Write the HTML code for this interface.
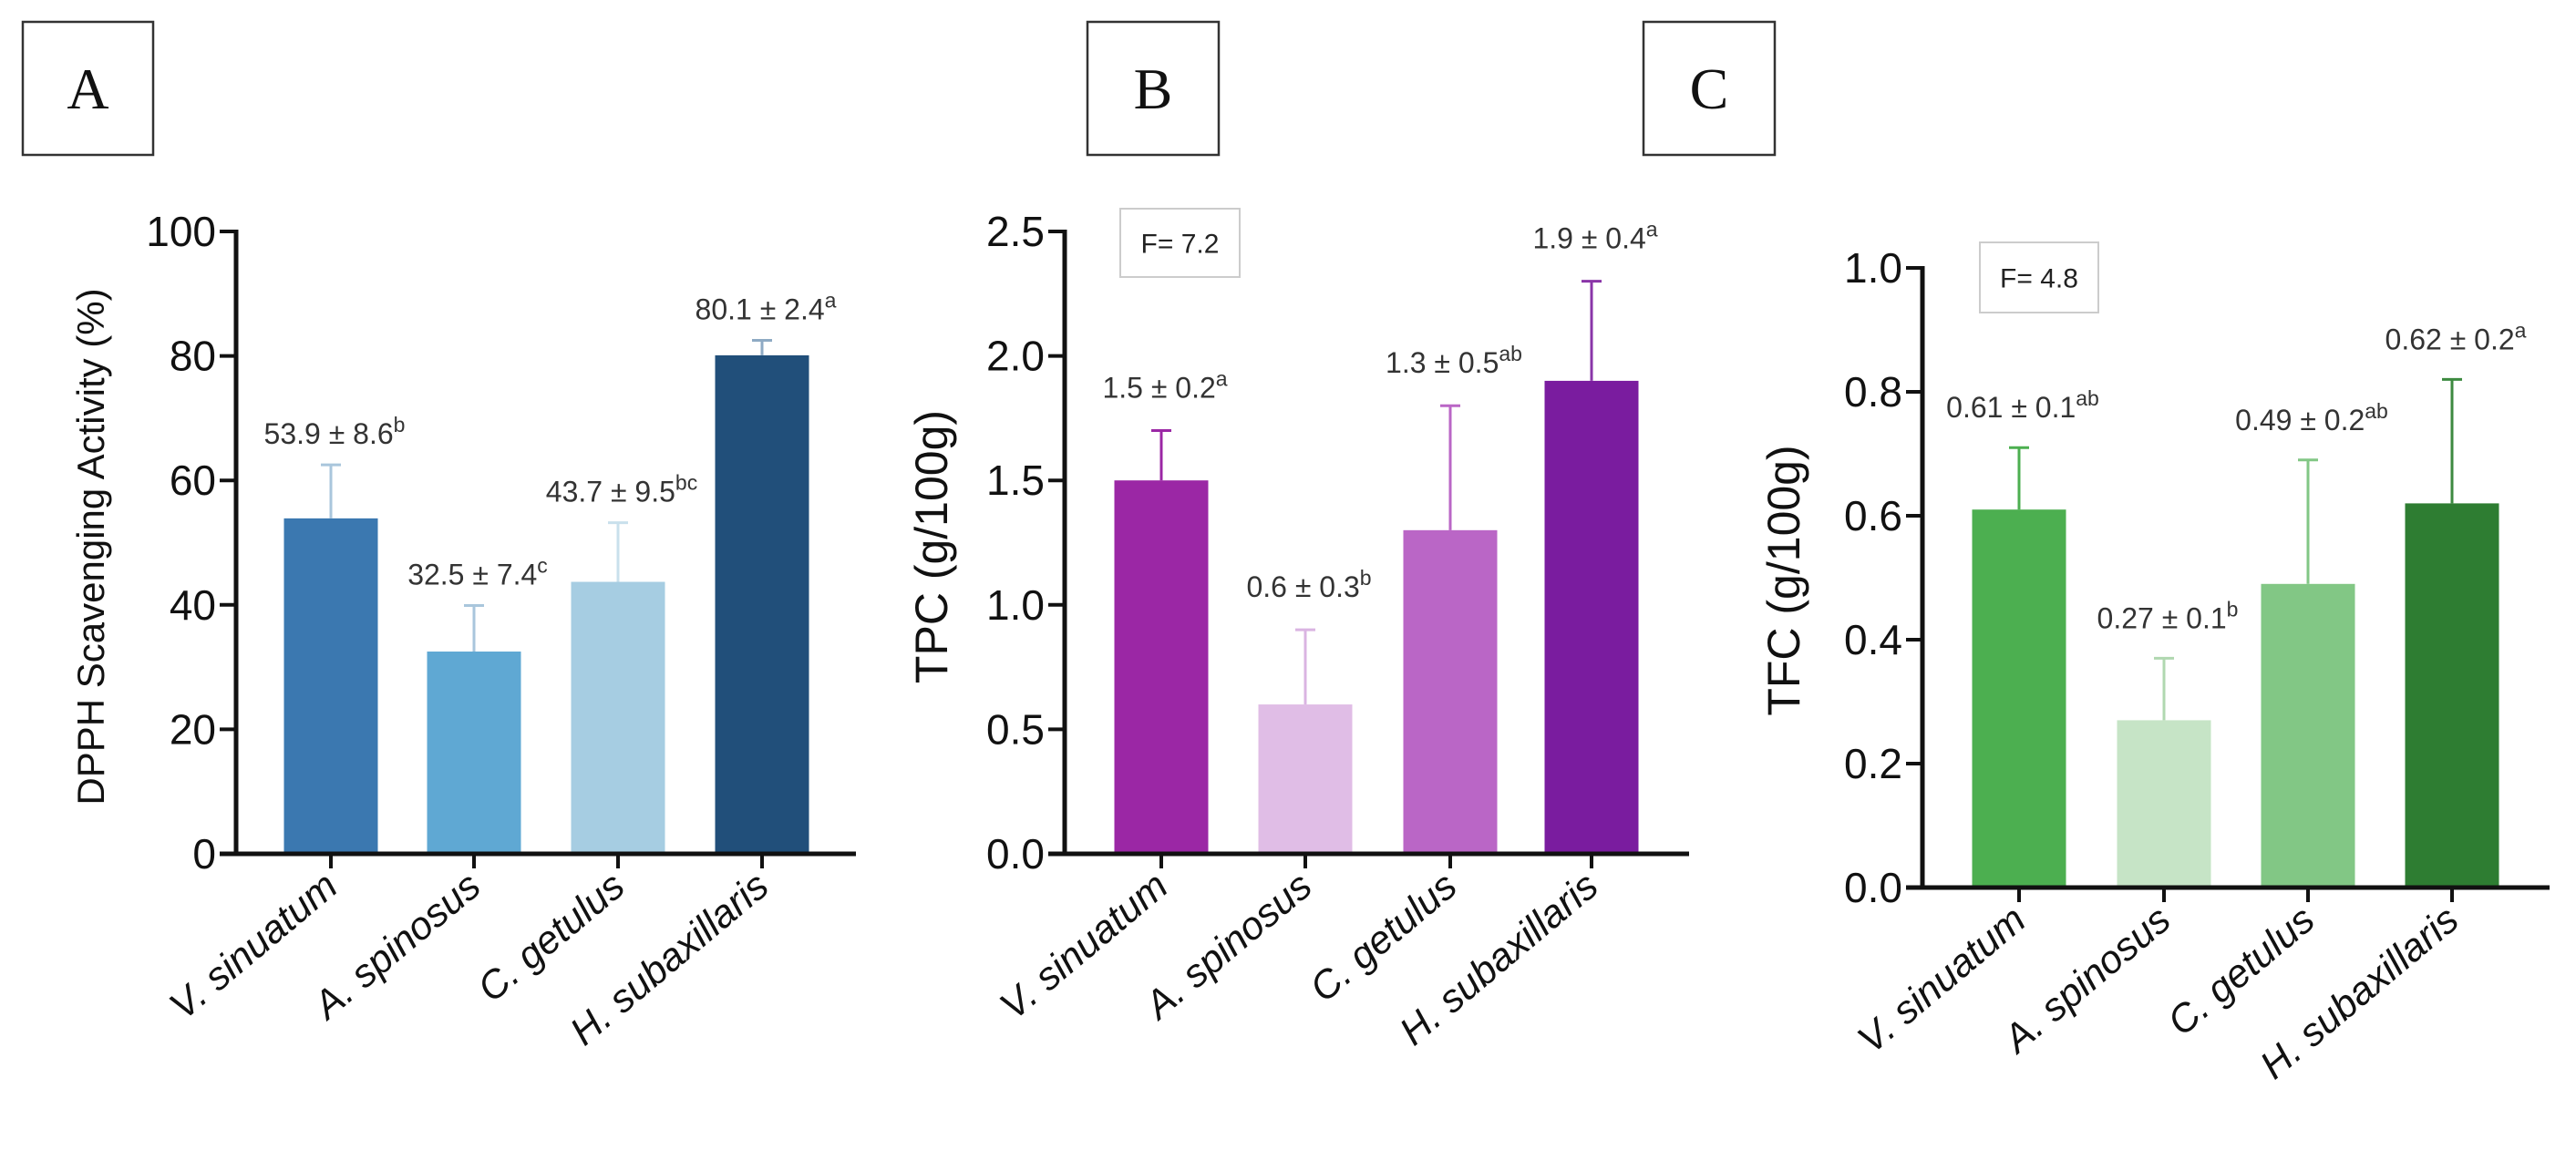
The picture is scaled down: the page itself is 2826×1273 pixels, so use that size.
<!DOCTYPE html>
<html><head><meta charset="utf-8"><style>
html,body{margin:0;padding:0;background:#fff;}
svg{display:block;font-family:"Liberation Sans",Arial,sans-serif;}
</style></head><body>
<svg id="fig" width="2826" height="1273" viewBox="0 0 2826 1273" xmlns="http://www.w3.org/2000/svg"></svg>
<script>
const categories = ["V. sinuatum","A. spinosus","C. getulus","H. subaxillaris"];
const dpphValues = [53.9, 32.5, 43.7, 80.1];
const dpphSd = [8.6, 7.4, 9.5, 2.4];
const dpphLetters = ["b","c","bc","a"];
const tpcValues = [1.5, 0.6, 1.3, 1.9];
const tpcSd = [0.2, 0.3, 0.5, 0.4];
const tpcLetters = ["a","b","ab","a"];
const tfcValues = [0.61, 0.27, 0.49, 0.62];
const tfcSd = [0.1, 0.1, 0.2, 0.2];
const tfcLetters = ["ab","b","ab","a"];
const dpphTicks = [0,20,40,60,80,100];
const tpcTicks = [0,0.5,1.0,1.5,2.0,2.5];
const tfcTicks = [0,0.2,0.4,0.6,0.8,1.0];

const NS="http://www.w3.org/2000/svg";
const svg=document.getElementById('fig');
function mk(tag,attrs,parent){const e=document.createElementNS(NS,tag);for(const k in attrs)e.setAttribute(k,attrs[k]);(parent||svg).appendChild(e);return e;}

const panels=[
 {key:"a",letter:"A",box:[25,24,143,146],ax:259,y0:937,yTop:254,xEnd:939,ymax:100,centers:[363,520,678,836],
  vals:dpphValues,sd:dpphSd,lets:dpphLetters,ticks:dpphTicks,dec:0,title:"DPPH Scavenging Activity (%)",titleX:103,titleY:600,titleSize:42,
  colors:["#3b78b0","#5fa8d3","#a6cde2","#214f7a"],errColors:["#a9c6dc","#a9c6dc","#c9e0ec","#8eaac4"],annDec:1,off:23,fbox:null},
 {key:"b",letter:"B",box:[1193,24,144,146],ax:1168,y0:937,yTop:254,xEnd:1853,ymax:2.5,centers:[1274,1432,1591,1746],
  vals:tpcValues,sd:tpcSd,lets:tpcLetters,ticks:tpcTicks,dec:1,title:"TPC (g/100g)",titleX:1026,titleY:600,titleSize:50,
  colors:["#9b27a5","#e0bde6","#ba66c6","#7a1c9f"],errColors:["#9b27a5","#dab4e2","#ba66c6","#8a35a8"],annDec:1,off:36,
  fbox:[1229,229,131,75,"F= 7.2"]},
 {key:"c",letter:"C",box:[1803,24,144,146],ax:2109,y0:974,yTop:294,xEnd:2797,ymax:1.0,centers:[2215,2374,2532,2690],
  vals:tfcValues,sd:tfcSd,lets:tfcLetters,ticks:tfcTicks,dec:1,title:"TFC (g/100g)",titleX:1961,titleY:637,titleSize:50,
  colors:["#4caf50","#c6e4c6","#82c785","#2e7d32"],errColors:["#4caf50","#b0d8b0","#82c785","#3d8a40"],annDec:2,off:33,
  fbox:[2172,266,130,77,"F= 4.8"]}
];

panels.forEach(p=>{
 const g=mk('g',{});
 
 
 const yS=v=>p.y0-(v/p.ymax)*(p.y0-p.yTop);
 // label box
 const lb=mk('rect',{x:p.box[0],y:p.box[1],width:p.box[2],height:p.box[3],fill:"#fff",stroke:"#333","stroke-width":2.5},g);
 
 
 const lt=mk('text',{x:p.box[0]+p.box[2]/2,y:p.box[1]+p.box[3]/2+22,"text-anchor":"middle","font-family":"'Liberation Serif',serif","font-size":64,fill:"#111"},g);
 lt.textContent=p.letter;
 
 
 // bars
 p.vals.forEach((v,i)=>{
  const cx=p.centers[i], w=103;
  const r=mk('rect',{x:cx-w/2,y:yS(v),width:w,height:p.y0-yS(v),fill:p.colors[i]},g);
  
  
  const top=yS(v+p.sd[i]);
  const e=mk('path',{d:`M${cx},${yS(v)} V${top} M${cx-11},${top} H${cx+11}`,stroke:p.errColors[i],"stroke-width":3,fill:"none"},g);
  
  
  const t=mk('text',{x:cx+4,y:top-p.off,"text-anchor":"middle","font-size":32,fill:"#333"},g);
  const fv=p.key==="a"?v.toFixed(1):(p.key==="c"?String(v):v.toFixed(1));
  t.textContent=fv+" ± "+p.sd[i].toFixed(1);
  const s=mk('tspan',{"baseline-shift":"super","font-size":23},t);
  s.textContent=p.lets[i];
  
  
  // x tick + category
  mk('line',{x1:cx,y1:p.y0,x2:cx,y2:p.y0+16,stroke:"#111","stroke-width":4},g);
  const c=mk('text',{x:cx+10,y:p.y0+40,"text-anchor":"end","font-size":43,"font-style":"italic",fill:"#111",transform:`rotate(-40 ${cx+10} ${p.y0+40})`},g);
  c.textContent=categories[i];
  
  
 });
 // axes
 const ya=mk('line',{x1:p.ax,y1:p.yTop-2,x2:p.ax,y2:p.y0+2,stroke:"#111","stroke-width":5},g);
 
 
 const xa=mk('line',{x1:p.ax-18,y1:p.y0,x2:p.xEnd,y2:p.y0,stroke:"#111","stroke-width":5},g);
 
 
 p.ticks.forEach(tv=>{
  const y=yS(tv);
  mk('line',{x1:p.ax-18,y1:y,x2:p.ax,y2:y,stroke:"#111","stroke-width":4},g);
  const t=mk('text',{x:p.ax-22,y:y+16,"text-anchor":"end","font-size":46,fill:"#111"},g);
  t.textContent=tv.toFixed(p.dec);
  
  
 });
 const tt=mk('text',{x:p.titleX,y:p.titleY,"text-anchor":"middle","font-size":p.titleSize,fill:"#111",transform:`rotate(-90 ${p.titleX} ${p.titleY})`,"dominant-baseline":"middle"},g);
 tt.textContent=p.title;
 
 
 if(p.fbox){
  const f=p.fbox;
  const fr=mk('rect',{x:f[0],y:f[1],width:f[2],height:f[3],fill:"#fff",stroke:"#ccc","stroke-width":2},g);
  
  
  const ft=mk('text',{x:f[0]+f[2]/2,y:f[1]+f[3]/2+11,"text-anchor":"middle","font-size":30,fill:"#222"},g);
  ft.textContent=f[4];
  
  
 }
});
</script>
</body></html>
